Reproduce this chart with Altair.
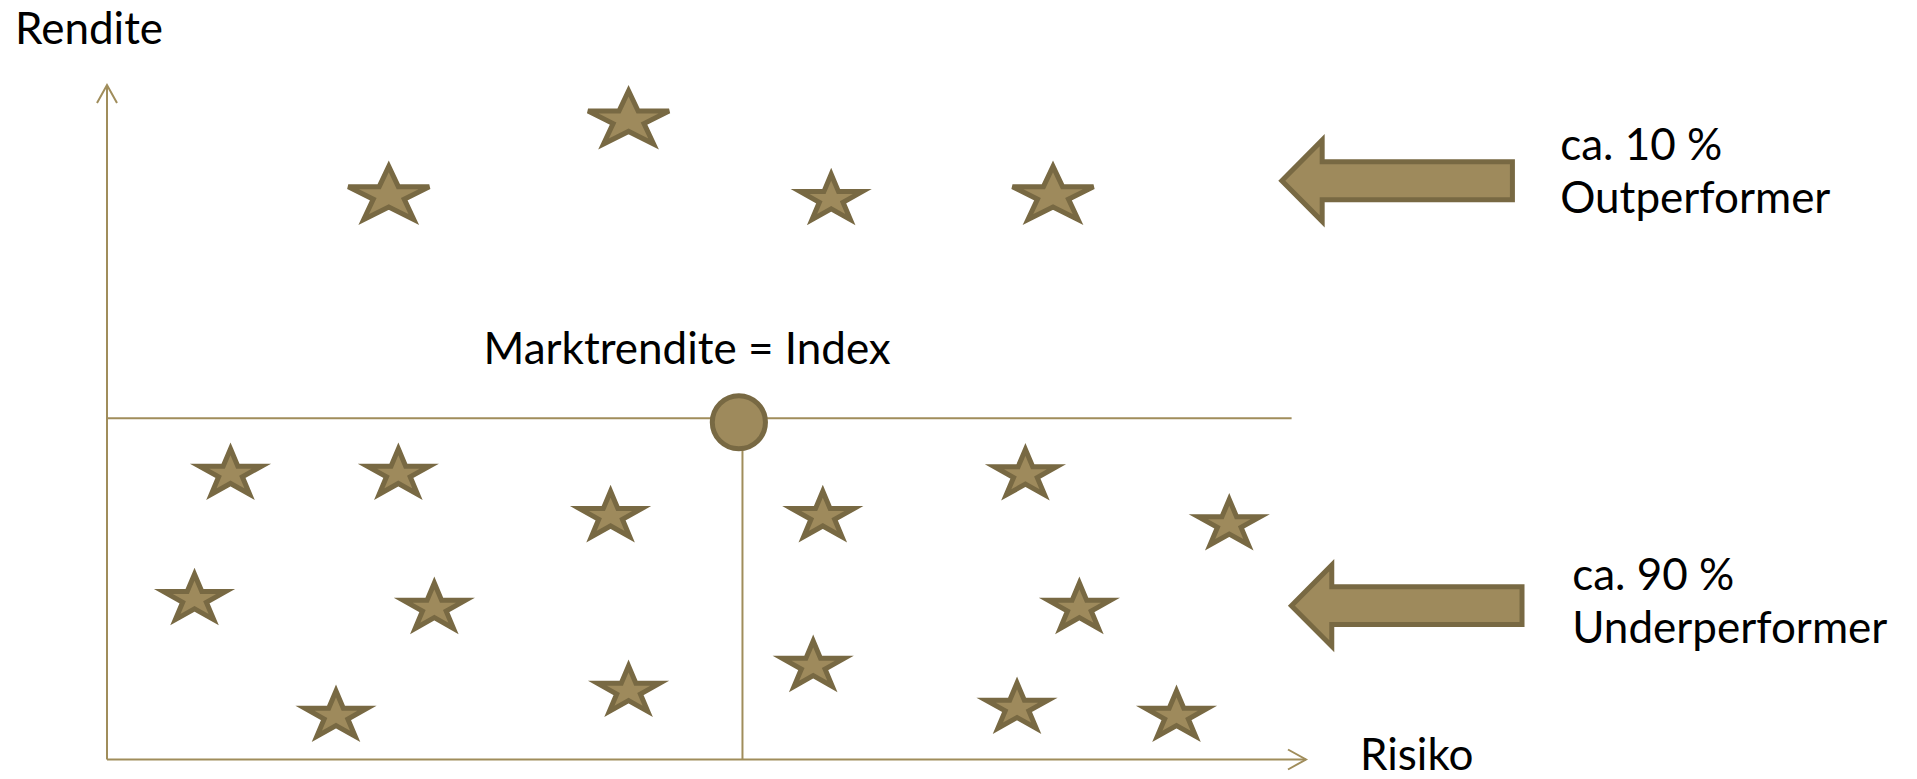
import math
import altair as alt
import pandas as pd

# ---- data (abstract units: Risiko 0..100 along x-axis, Rendite 0..100 along y-axis)
star_risk = [23.5, 43.5, 60.4, 78.9,
             10.3, 24.3, 42.0, 59.7, 76.6, 93.6,
             7.3, 27.3, 81.1,
             19.1, 43.5, 58.9, 75.9, 89.2]
star_return = [84.0, 95.2, 83.4, 84.0,
               42.7, 42.7, 36.4, 36.4, 42.6, 35.2,
               24.1, 22.8, 22.8,
               6.8, 10.5, 14.2, 8.0, 6.8]
star_kind = ["groß", "groß", "klein", "groß"] + ["klein"] * 14

axis_max = 100
market_return = 50.6
market_end = 98.8
index_risk = 53.0
index_point_risk = [52.7]
index_point_return = [50.0]

arrow_risk = [107.6, 108.4]
arrow_return = [85.8, 22.8]

label_text = ["Rendite", "Risiko", "Marktrendite = Index",
              "ca. 10 %", "Outperformer", "ca. 90 %", "Underperformer"]
label_risk = [-7.67, 104.5, 31.4, 121.2, 121.2, 122.2, 122.2]
label_return = [106.1, -1.63, 58.7, 88.9, 81.0, 25.1, 17.2]

# ---- styles
W, H = 1917, 779
X_DOMAIN = [-8.924, 150.96]
Y_DOMAIN = [-2.891, 112.60]
LINE = "#a08d5b"
DARK = "#786943"
FILL = "#9e8a5c"
FONT = "Lato"


def star_path(sx, inner=0.382):
    pts = []
    for k in range(10):
        a = math.radians(-90 + 36 * k)
        r = 1.0 if k % 2 == 0 else inner
        pts.append((sx * r * math.cos(a), r * math.sin(a)))
    norm = max(abs(p[0]) for p in pts)
    ys = [p[1] for p in pts]
    cy = (min(ys) + max(ys)) / 2
    return "M" + "L".join(f"{x / norm:.4f},{(y - cy) / norm:.4f}" for x, y in pts) + "Z"


ARROW = "M-1,0L-0.65,-0.352L-0.65,-0.164L1,-0.164L1,0.164L-0.65,0.164L-0.65,0.352Z"
CHEVRON_UP = "M-1,1.8L0,0L1,1.8"
CHEVRON_RIGHT = "M-1.8,-1L0,0L-1.8,1"

xs = alt.Scale(domain=X_DOMAIN, nice=False, zero=False)
ys = alt.Scale(domain=Y_DOMAIN, nice=False, zero=False)

stars = pd.DataFrame({"risk": star_risk, "ret": star_return, "kind": star_kind})
rules = pd.DataFrame({
    "x": [0, 0, 0, index_risk],
    "x2": [0, axis_max, market_end, index_risk],
    "y": [0, 0, market_return, 0],
    "y2": [axis_max, 0, market_return, market_return],
})
heads = pd.DataFrame({"x": [0, axis_max], "y": [axis_max, 0], "dir": ["up", "right"]})
index_df = pd.DataFrame({"risk": index_point_risk, "ret": index_point_return})
arrows = pd.DataFrame({"risk": arrow_risk, "ret": arrow_return})
labels = pd.DataFrame({"label": label_text, "risk": label_risk, "ret": label_return})

rule_layer = alt.Chart(rules).mark_rule(color=LINE, strokeWidth=2).encode(
    x=alt.X("x:Q", scale=xs, axis=None), x2="x2:Q",
    y=alt.Y("y:Q", scale=ys, axis=None), y2="y2:Q",
)

head_up = alt.Chart(heads[heads["dir"] == "up"]).mark_point(
    shape=CHEVRON_UP, size=400, filled=False, stroke=LINE, strokeWidth=2, opacity=1
).encode(x=alt.X("x:Q", scale=xs, axis=None), y=alt.Y("y:Q", scale=ys, axis=None))
head_right = alt.Chart(heads[heads["dir"] == "right"]).mark_point(
    shape=CHEVRON_RIGHT, size=400, filled=False, stroke=LINE, strokeWidth=2, opacity=1
).encode(x=alt.X("x:Q", scale=xs, axis=None), y=alt.Y("y:Q", scale=ys, axis=None))


def star_layer(kind, sx, size):
    return alt.Chart(stars[stars["kind"] == kind]).mark_point(
        shape=star_path(sx), size=size, filled=True, fill=FILL, stroke=DARK,
        strokeWidth=5, strokeJoin="miter", opacity=1, fillOpacity=1, strokeOpacity=1
    ).encode(x=alt.X("risk:Q", scale=xs, axis=None), y=alt.Y("ret:Q", scale=ys, axis=None))


big = star_layer("groß", 1.45, 6561)
small = star_layer("klein", 1.3, 3844)

index_layer = alt.Chart(index_df).mark_point(
    shape="circle", size=2827, filled=True, fill=FILL, stroke=DARK, strokeWidth=5, opacity=1
).encode(x=alt.X("risk:Q", scale=xs, axis=None), y=alt.Y("ret:Q", scale=ys, axis=None))

arrow_layer = alt.Chart(arrows).mark_point(
    shape=ARROW, size=53176, filled=True, fill=FILL, stroke=DARK, strokeWidth=5,
    strokeJoin="miter", opacity=1
).encode(x=alt.X("risk:Q", scale=xs, axis=None), y=alt.Y("ret:Q", scale=ys, axis=None))

text_layer = alt.Chart(labels).mark_text(
    align="left", baseline="alphabetic", font=FONT, fontSize=44, color="black"
).encode(
    x=alt.X("risk:Q", scale=xs, axis=None), y=alt.Y("ret:Q", scale=ys, axis=None),
    text="label:N",
)

chart = alt.layer(
    rule_layer, head_up, head_right, big, small, index_layer, arrow_layer, text_layer
).properties(
    width=W, height=H, padding=0, autosize=alt.AutoSizeParams(type="none"),
    background="white",
).configure_view(stroke=None)

chart.save("out.html", embed_options={"renderer": "svg", "actions": False})
